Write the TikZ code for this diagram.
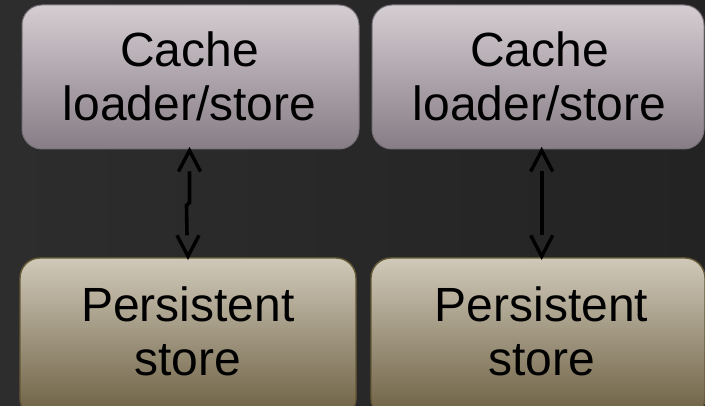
\documentclass[tikz,border=0pt]{standalone}
\usepackage{fontspec}
\setmainfont{Liberation Sans}
\usetikzlibrary{calc}

\definecolor{bgLeft}{HTML}{2D2D2D}
\definecolor{bgRight}{HTML}{232323}
\definecolor{cacheTop}{HTML}{D4CDD1}
\definecolor{cacheBot}{HTML}{877D86}
\definecolor{cacheRim}{HTML}{7A7279}
\definecolor{storeTop}{HTML}{D0C9B9}
\definecolor{storeBot}{HTML}{6C5F42}
\definecolor{storeRim}{HTML}{665936}

\begin{document}
\begin{tikzpicture}[x=1pt,y=-1pt,
  cachebox/.style={rounded corners=20pt, draw=cacheRim, line width=1pt,
    top color=cacheTop, bottom color=cacheBot, inner sep=0pt,
    minimum height=144pt},
  storebox/.style={rounded corners=20pt, draw=storeRim, line width=1.4pt,
    top color=storeTop, bottom color=storeBot, inner sep=0pt,
    minimum height=160pt},
  boxtext/.style={align=center, inner sep=0pt, text=black,
    font=\fontsize{48pt}{54pt}\selectfont},
  shaft/.style={draw=black, line width=3.6pt, line cap=butt, line join=miter},
  chevron/.style={draw=black, line width=3.4pt, line cap=butt, line join=miter}]

  % page and background
  \useasboundingbox (0,0) rectangle (705,406);
  \clip (0,0) rectangle (705,406);
  \shade[left color=bgLeft, right color=bgRight] (0,0) rectangle (705,406);

  % upper row: cache loader/store boxes
  \node[cachebox, minimum width=337pt] (cL) at (190.5,77) {};
  \node[cachebox, minimum width=332pt] (cR) at (538,77) {};
  \node[boxtext] (cLt) at (189.5,76) {Cache\\loader/store};
  \node[boxtext] (cRt) at (539.5,76) {Cache\\loader/store};

  % lower row: persistent store boxes (run past the bottom edge)
  \node[storebox, minimum width=336pt] (sL) at (188,338) {};
  \node[storebox, minimum width=334pt] (sR) at (538,338) {};
  \node[boxtext] (sLt) at (188,331.5) {Persistent\\store};
  \node[boxtext] (sRt) at (541.5,331.5) {Persistent\\store};

  % two-way links between cache and store
  \coordinate (lTop) at ($(cL.south)+(-1,1)$);
  \coordinate (lBot) at ($(sL.north)+(0,-1)$);
  \coordinate (rTop) at ($(cR.south)+(3.7,1)$);
  \coordinate (rBot) at ($(sR.north)+(3.7,-1)$);

  % left link: shaft with a small jog, open heads at both ends
  \draw[shaft] ($(lTop)+(0,21)$) -- ++(0,31) -- ++(-3,3) -- ($(lBot)+(-1,-21)$);
  \draw[chevron] ($(lTop)+(-11,21)$) -- (lTop) -- ($(lTop)+(11,21)$);
  \draw[chevron] ($(lBot)+(-11,-21)$) -- (lBot) -- ($(lBot)+(11,-21)$);

  % right link: straight shaft, open heads at both ends
  \draw[shaft] ($(rTop)+(0,21)$) -- ($(rBot)+(0,-21)$);
  \draw[chevron] ($(rTop)+(-11,21)$) -- (rTop) -- ($(rTop)+(11,21)$);
  \draw[chevron] ($(rBot)+(-11,-21)$) -- (rBot) -- ($(rBot)+(11,-21)$);
\end{tikzpicture}
\end{document}
